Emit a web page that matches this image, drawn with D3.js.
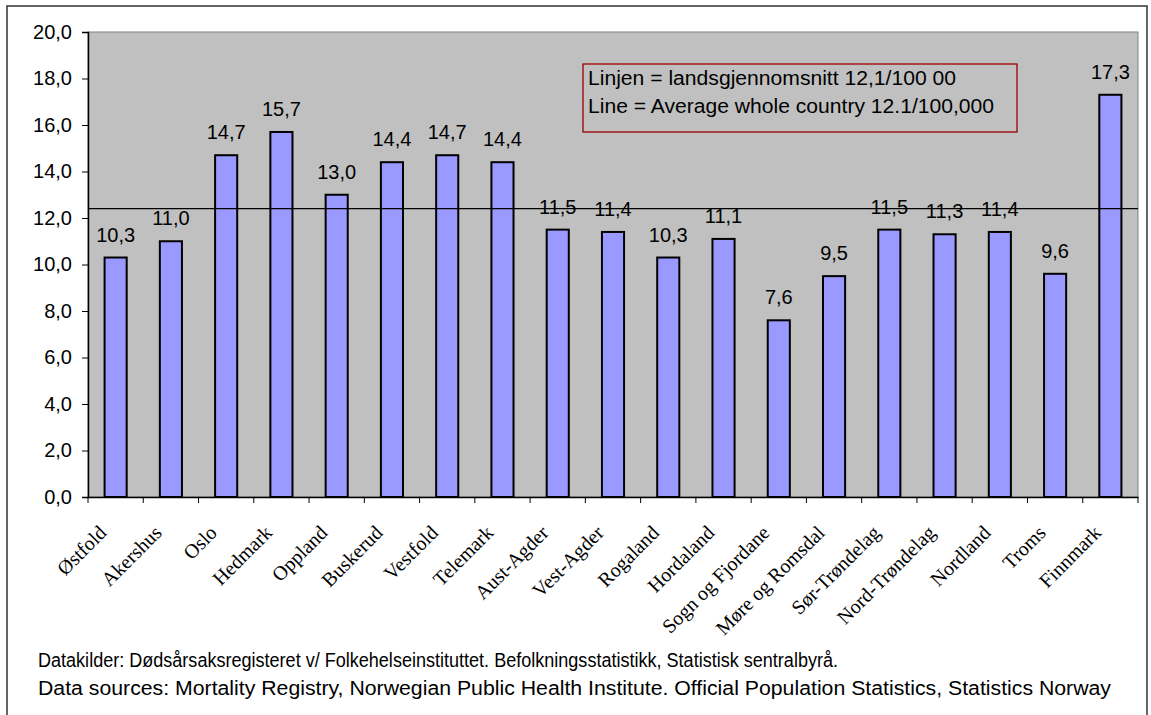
<!DOCTYPE html>
<html><head><meta charset="utf-8">
<script src="https://cdn.jsdelivr.net/npm/d3@7"></script>
<style>body{margin:0;background:#fff}svg{display:block}</style>
</head><body>
<svg id="c" width="1151" height="715"></svg>
<script>
const categories = ["Østfold","Akershus","Oslo","Hedmark","Oppland","Buskerud","Vestfold","Telemark","Aust-Agder","Vest-Agder","Rogaland","Hordaland","Sogn og Fjordane","Møre og Romsdal","Sør-Trøndelag","Nord-Trøndelag","Nordland","Troms","Finnmark"];
const values = [10.3,11.0,14.7,15.7,13.0,14.4,14.7,14.4,11.5,11.4,10.3,11.1,7.6,9.5,11.5,11.3,11.4,9.6,17.3];
const yTicks = [0,2,4,6,8,10,12,14,16,18,20];
const averageLineValue = 12.4;
const legendLines = ["Linjen = landsgjennomsnitt 12,1/100 00","Line = Average whole country 12.1/100,000"];
const sourceLines = ["Datakilder: Dødsårsaksregisteret v/ Folkehelseinstituttet.  Befolkningsstatistikk, Statistisk sentralbyrå.","Data sources: Mortality Registry, Norwegian Public Health Institute. Official Population Statistics, Statistics Norway"];

const svg = d3.select("#c");
const L = 88, R = 1138, T = 32, B = 497;
const fmt = v => v.toFixed(1).replace(".", ",");
const sans = "Liberation Sans, Arial, sans-serif";

// outer border
svg.append("rect").attr("x",7).attr("y",6).attr("width",1140).attr("height",720)
  .attr("fill","#fff").attr("stroke","#333").attr("stroke-width",1.5);

const x = d3.scaleBand().domain(categories).range([L,R]).paddingInner(0.6).paddingOuter(0.3);
const xb = d3.scaleBand().domain(categories).range([L,R]);
const y = d3.scaleLinear().domain([0,20]).range([B,T]);

svg.append("rect").attr("x",L).attr("y",T).attr("width",R-L).attr("height",B-T)
  .attr("fill","#C0C0C0").attr("stroke","#808080").attr("stroke-width",1);

// bars
svg.append("g").selectAll("rect").data(values).join("rect")
  .attr("x",(d,i)=>x(categories[i])).attr("y",d=>y(d))
  .attr("width",x.bandwidth()).attr("height",d=>B-y(d))
  .attr("fill","#9999FF").attr("stroke","#000").attr("stroke-width",2);

// average line
svg.append("line").attr("x1",L).attr("x2",R).attr("y1",y(averageLineValue)).attr("y2",y(averageLineValue))
  .attr("stroke","#000").attr("stroke-width",1.3);

// value labels
svg.append("g").selectAll("text").data(values).join("text")
  .attr("x",(d,i)=>xb(categories[i])+xb.bandwidth()/2).attr("y",d=>y(d)-16)
  .attr("text-anchor","middle").attr("font-family",sans)
  .attr("font-size",20).text(d=>fmt(d));

// y axis
const ya = svg.append("g").attr("transform",`translate(${L},0)`)
  .call(d3.axisLeft(y).tickValues(yTicks).tickFormat(fmt).tickSize(6).tickPadding(10));
ya.select(".domain").attr("stroke","#000").attr("stroke-width",1.5);
ya.selectAll("text").attr("font-family",sans).attr("font-size",20).attr("fill","#000");

// x axis
const xa = svg.append("g").attr("transform",`translate(0,${B})`)
  .call(d3.axisBottom(xb).tickSize(0).tickFormat(""));
xa.select(".domain").attr("stroke","#000").attr("stroke-width",1.5);
svg.append("g").selectAll("line").data(d3.range(categories.length+1)).join("line")
  .attr("x1",i=>L+i*xb.step()).attr("x2",i=>L+i*xb.step()).attr("y1",B).attr("y2",B+6)
  .attr("stroke","#000");
svg.append("g").selectAll("text").data(categories).join("text")
  .attr("transform",d=>`translate(${xb(d)+xb.bandwidth()/2-8},${B+37}) rotate(-45)`)
  .attr("text-anchor","end").attr("font-family","Liberation Serif, Times New Roman, serif")
  .attr("font-size",20).text(d=>d);

// legend box
svg.append("rect").attr("x",583).attr("y",64).attr("width",434).attr("height",68)
  .attr("fill","none").attr("stroke","#990000").attr("stroke-width",1.3);
const legW = [368,406];
svg.append("g").selectAll("text").data(legendLines).join("text")
  .attr("x",588).attr("y",(d,i)=>85+i*28).attr("font-family",sans)
  .attr("font-size",20).attr("textLength",(d,i)=>legW[i]).attr("lengthAdjust","spacingAndGlyphs").text(d=>d);

// source lines
const srcW = [800,1073];
svg.append("g").selectAll("text").data(sourceLines).join("text")
  .attr("x",38).attr("y",(d,i)=>667+i*28).attr("font-family",sans)
  .attr("font-size",20).attr("textLength",(d,i)=>srcW[i]).attr("lengthAdjust","spacingAndGlyphs").text(d=>d);
</script>
</body></html>
